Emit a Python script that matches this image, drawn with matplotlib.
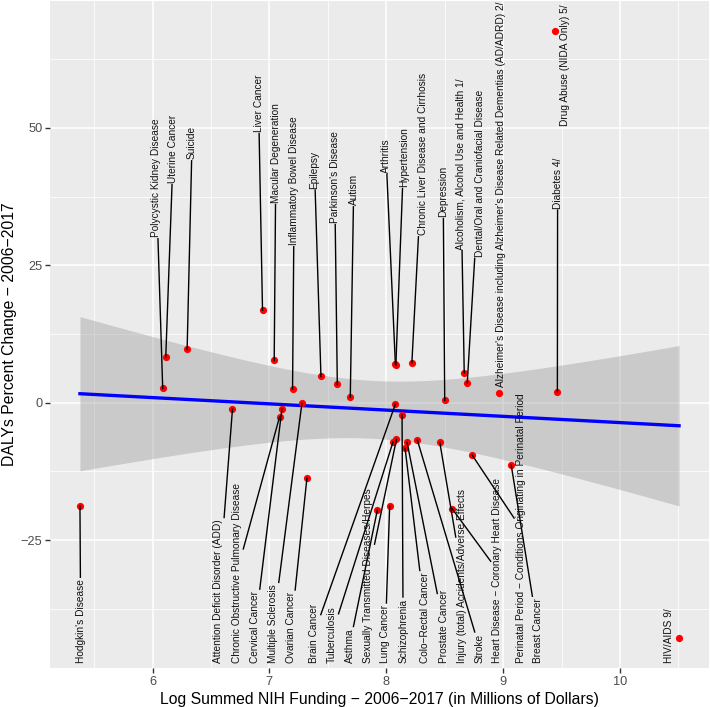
import matplotlib
matplotlib.use("Agg")
import matplotlib.pyplot as plt
import numpy as np

plt.rcParams['font.family'] = ['Liberation Sans', 'DejaVu Sans']

# data: log summed NIH funding vs. DALYs percent change
diseases = [
    "Hodgkin's Disease", "Polycystic Kidney Disease", "Uterine Cancer", "Suicide",
    "Liver Cancer", "Macular Degeneration", "Inflammatory Bowel Disease", "Epilepsy",
    "Parkinson's Disease", "Autism", "Arthritis", "Hypertension",
    "Chronic Liver Disease and Cirrhosis", "Depression",
    "Alcoholism, Alcohol Use and Health 1/", "Dental/Oral and Craniofacial Disease",
    "Alzheimer's Disease including Alzheimer's Disease Related Dementias (AD/ADRD) 2/",
    "Drug Abuse (NIDA Only) 5/", "Diabetes 4/",
    "Attention Deficit Disorder (ADD)", "Chronic Obstructive Pulmonary Disease",
    "Cervical Cancer", "Multiple Sclerosis", "Ovarian Cancer", "Brain Cancer",
    "Schizophrenia", "Tuberculosis", "Sexually Transmitted Diseases/Herpes", "Asthma",
    "Lung Cancer", "Colo\u2212Rectal Cancer", "Prostate Cancer", "Stroke",
    "Injury (total) Accidents/Adverse Effects", "Heart Disease \u2212 Coronary Heart Disease",
    "Perinatal Period \u2212 Conditions Originating in Perinatal Period", "Breast Cancer",
    "HIV/AIDS 9/",
]
log_funding = [
    5.379, 6.087, 6.113, 6.296,
    6.941, 7.041, 7.198, 7.441,
    7.581, 7.692, 8.078, 8.082,
    8.219, 8.500,
    8.667, 8.693,
    8.967,
    9.443, 9.464,
    6.684, 7.087,
    7.107, 7.278, 7.321, 8.078,
    8.135, 8.058, 8.087, 7.924,
    8.029, 8.161, 8.178, 8.266,
    8.458, 8.564,
    8.735, 9.069,
    10.505,
]
daly_change = [
    -18.76, 2.58, 8.22, 9.67,
    16.82, 7.67, 2.51, 4.76,
    3.31, 0.95, 6.95, 6.82,
    7.24, 0.40,
    5.42, 3.60,
    1.78,
    67.55, 1.96,
    -1.18, -2.58,
    -1.18, -0.15, -13.73, -0.27,
    -2.27, -7.13, -6.69, -19.49,
    -18.76, -8.33, -7.24, -6.82,
    -7.24, -19.31,
    -9.55, -11.36,
    -42.76,
]

# label layout (repelled positions): x centre, and bottom edge of the rotated text
label_x = [
    5.385, 6.030, 6.178, 6.338,
    6.907, 7.056, 7.213, 7.386,
    7.558, 7.721, 7.998, 8.149,
    8.312, 8.487,
    8.635, 8.800,
    8.984,
    9.529, 9.466,
    6.564, 6.721,
    6.878, 7.035, 7.187, 7.384,
    8.144, 7.536, 7.844, 7.686,
    7.992, 8.335, 8.492, 8.798,
    8.650, 8.949,
    9.149, 9.297,
    10.420,
]
label_bottom = [
    -47.3, 30.09, 39.96, 44.27,
    49.24, 36.33, 28.64, 38.95,
    32.69, 35.91, 41.78, 39.24,
    30.45, 33.78,
    27.85, 26.51,
    2.87,
    50.27, 35.31,
] + [-47.3] * 19

x = np.array(log_funding)
y = np.array(daly_change)

# linear fit with 95% confidence band (like geom_smooth(method = "lm"))
n = len(x)
slope, intercept = np.polyfit(x, y, 1)
resid = y - (intercept + slope * x)
s = np.sqrt(np.sum(resid ** 2) / (n - 2))
sxx = np.sum((x - x.mean()) ** 2)
t_crit = 2.0281  # t quantile 0.975, df = 36
xs = np.linspace(x.min(), x.max(), 80)
ys = intercept + slope * xs
se = s * np.sqrt(1 / n + (xs - x.mean()) ** 2 / sxx)

fig = plt.figure(figsize=(7.1, 7.07), dpi=100)
ax = fig.add_axes([50 / 710, 39 / 707, 659 / 710, 667 / 707])
ax.set_facecolor('#EBEBEB')

xr = x.max() - x.min()
yr = y.max() - y.min()
ax.set_xlim(x.min() - 0.05 * xr, x.max() + 0.05 * xr)
ax.set_ylim(y.min() - 0.05 * yr, y.max() + 0.05 * yr)

ax.set_xticks([6, 7, 8, 9, 10])
ax.set_xticks(np.arange(5.5, 11, 1), minor=True)
ax.set_yticks([-25, 0, 25, 50])
ax.set_yticks([-37.5, -12.5, 12.5, 37.5, 62.5], minor=True)
ax.grid(which='major', color='white', linewidth=1.1)
ax.grid(which='minor', color='white', linewidth=0.55)
ax.set_axisbelow(True)
for sp in ax.spines.values():
    sp.set_visible(False)
ax.tick_params(which='major', length=3.5, width=1.0, color='#333333',
               labelsize=9.2, labelcolor='#4D4D4D', pad=2)
ax.tick_params(which='minor', length=0)

ax.fill_between(xs, ys - t_crit * se, ys + t_crit * se, color='#999999',
                alpha=0.4, linewidth=0, zorder=2)
ax.plot(xs, ys, color='#0000FF', linewidth=2.4, zorder=3)
ax.scatter(x, y, s=27, color='#FF0000', zorder=4, linewidths=0)

texts = []
for name, lx, lb in zip(diseases, label_x, label_bottom):
    t = ax.text(lx, lb, name, rotation=90, ha='center', va='bottom',
                fontsize=7.25, color='#111111', zorder=6)
    texts.append(t)

fig.canvas.draw()
inv = ax.transData.inverted()
for t, px, py in zip(texts, x, y):
    bb = t.get_window_extent()
    x0, y0, x1, y1 = bb.x0 - 1.5, bb.y0 - 1.5, bb.x1 + 1.5, bb.y1 + 1.5
    p = ax.transData.transform((px, py))
    c = ((x0 + x1) / 2, (y0 + y1) / 2)
    dx, dy = c[0] - p[0], c[1] - p[1]
    # parameter where segment point->centre enters the label box
    ts = []
    if dx != 0:
        ts += [(x0 - p[0]) / dx, (x1 - p[0]) / dx]
    if dy != 0:
        ts += [(y0 - p[1]) / dy, (y1 - p[1]) / dy]
    best = None
    for tt in ts:
        if 0 <= tt <= 1:
            qx, qy = p[0] + tt * dx, p[1] + tt * dy
            if x0 - 0.01 <= qx <= x1 + 0.01 and y0 - 0.01 <= qy <= y1 + 0.01:
                if best is None or tt < best:
                    best = tt
    if best is None:
        continue
    end = (p[0] + best * dx, p[1] + best * dy)
    # short connections (label sits next to its point) are left out
    if np.hypot(end[0] - p[0], end[1] - p[1]) < 20:
        continue
    e = inv.transform(end)
    ax.plot([px, e[0]], [py, e[1]], color='black', linewidth=1.0, zorder=5)

ax.set_xlabel("Log Summed NIH Funding \u2212 2006\u22122017 (in Millions of Dollars)",
              fontsize=11.3, labelpad=3)
ax.set_ylabel("DALYs Percent Change \u2212 2006\u22122017", fontsize=11.3)
ax.yaxis.set_label_coords(-33 / 659, 0.5)

fig.savefig('out.png', dpi=100)
